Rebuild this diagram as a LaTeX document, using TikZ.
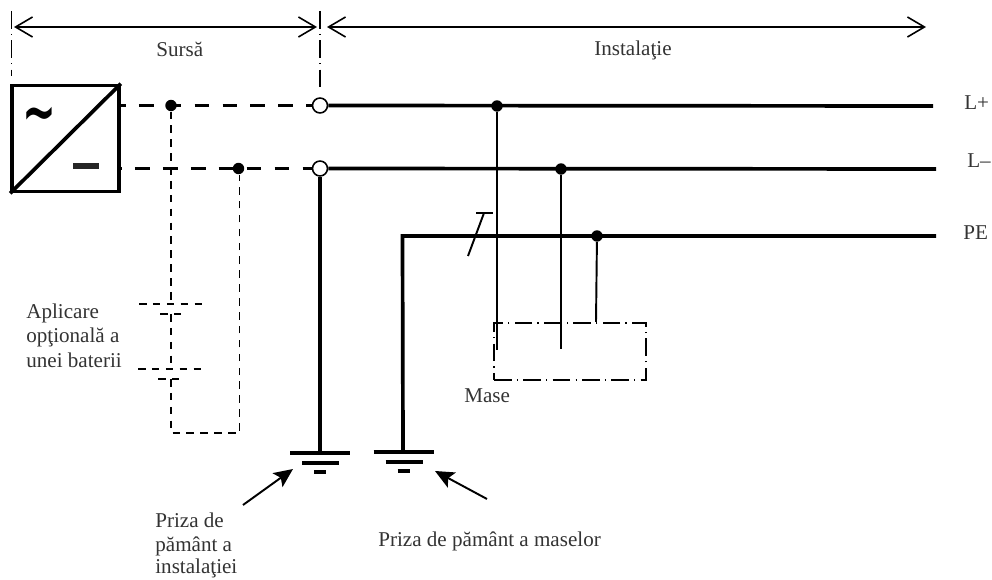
\documentclass[tikz,border=0pt]{standalone}
\usepackage{fontspec}
\setmainfont{Liberation Serif}
\usetikzlibrary{arrows.meta}

\tikzset{
    wire/.style={line width=2.1pt},
    thinwire/.style={line width=1.1pt},
    optwire/.style={line width=0.95pt, dash pattern=on 4.3pt off 3.6pt},
    busdash/.style={line width=2.1pt, dash pattern=on 8.4pt off 7.5pt},
    frameline/.style={line width=0.85pt, dash pattern=on 10pt off 3pt on 0.7pt off 3pt},
    dimline/.style={line width=0.9pt, {Straight Barb[length=.34cm,width=.4cm]}-{Straight Barb[length=.34cm,width=.4cm]}},
    pointer/.style={line width=1.1pt, -{Stealth[length=.38cm,width=.34cm,inset=.08cm]}},
    dot/.style={circle, fill=black, inner sep=0pt, minimum size=6.5pt},
    ring/.style={circle, draw, fill=white, line width=0.9pt, inner sep=0pt, minimum size=8.5pt},
    lbl/.style={inner sep=0pt, anchor=base west, font=\fontsize{12}{14}\selectfont, text=black!80},
}

\begin{document}
\begin{tikzpicture}[x=0.02cm, y=-0.02cm]
        \useasboundingbox (0,0) rectangle (992,580);

        % Converter:
        \node [draw, line width=2.1pt, minimum width=2.14cm, minimum height=2.12cm, inner sep=0pt] (psu) at (65.5,138.5) {};
        \draw [wire] (psu.south west) -- (psu.north east);
        \node [inner sep=0pt, xscale=2.3, yscale=3.6] (ac) at (39,120) {\bfseries\fontspec{DejaVu Sans}∼};
        \node [fill=black!85, minimum width=0.53cm, minimum height=0.11cm, inner sep=0pt] (dc) at (86,166) {};

        % Points on the lines:
        \node [ring] (ringp) at (320,105.5) {};
        \node [ring] (ringm) at (320,168.5) {};
        \foreach \name/\x/\y in {jp/171/105.5, jm/238.5/168.5, fp/497/106, fm/561/169, fpe/597/236}{%
        \node [dot] (\name) at (\x,\y) {};
        }
        \coordinate (endp) at (933,106);
        \coordinate (endm) at (936,169);
        \coordinate (endpe) at (936,236);
        \coordinate (cornerpe) at (402.5,236);
        \coordinate (gnda) at (320,453);
        \coordinate (gndb) at (403,452);

        % Lines:
        \draw [busdash, dash phase=5.7pt] (psu.east |- ringp) -- (ringp);
        \draw [busdash, dash phase=7.9pt] (psu.east |- ringm) -- (ringm);
        \draw [wire] (ringp) -- (endp);
        \draw [wire] (ringm) -- (endm);
        \draw [wire] (ringm) -- (gnda);
        \draw [wire] (endpe) -- (cornerpe) -- (gndb);

        % Earth:
        \foreach \x/\y in {320/453, 403.5/452}{%
        \draw [line width=1.8pt] (\x-30,\y) -- (\x+30,\y);
        \draw [line width=2pt] (\x-18,\y+10) -- (\x+19,\y+10);
        \draw [line width=1.8pt] (\x-6,\y+19) -- (\x+6,\y+19);
        }

        % Slash on PE:
        \coordinate (slasha) at (468,256);
        \coordinate (slashb) at (484,213);
        \coordinate (slashc) at (476,213);
        \coordinate (slashd) at (493,213);
        \draw [thinwire] (slasha) -- (slashb);
        \draw [thinwire] (slashc) -- (slashd);

        % Masses:
        \node [draw, frameline, minimum width=3.04cm, minimum height=1.14cm, inner sep=0pt] (mase) at (570,351.5) {};
        \coordinate (fpend) at (497,350);
        \coordinate (fmend) at (561,349);
        \coordinate (fpeend) at (596,322);
        \draw [thinwire] (fp) -- (fpend);
        \draw [thinwire] (fm) -- (fmend);
        \draw [thinwire] (fpe) -- (fpeend);

        % Optional battery:
        \coordinate (bata) at (171,304);
        \coordinate (batb) at (171,314);
        \coordinate (batc) at (171,369);
        \coordinate (batd) at (171,379);
        \coordinate (bate) at (171,433);
        \coordinate (batf) at (239.5,433);
        \draw [optwire] (jp) -- (bata);
        \draw [optwire] (batb) -- (batc);
        \draw [optwire] (batd) -- (bate) -- (batf) -- (jm.south -| batf);
        \draw [optwire] (139,304) -- (204,304);
        \draw [optwire] (160,314) -- (182,314);
        \draw [optwire] (138,369) -- (203,369);
        \draw [optwire] (158,379) -- (181,379);

        % Borders and extents:
        \coordinate (bordera) at (11.5,11);
        \coordinate (borderc) at (11.5,76);
        \coordinate (borderb) at (320,11);
        \coordinate (borderd) at (320,87);
        \coordinate (extl) at (14,27);
        \coordinate (extm) at (317,27);
        \coordinate (extn) at (327,27);
        \coordinate (extr) at (926,27);
        \draw [frameline] (bordera) -- (borderc);
        \draw [frameline] (borderb) -- (borderd);
        \draw [dimline] (extl) -- (extm);
        \draw [dimline] (extn) -- (extr);

        % Earth pointers:
        \coordinate (ptra) at (243,505);
        \coordinate (ptrb) at (293,469);
        \coordinate (ptrc) at (487,499);
        \coordinate (ptrd) at (435,471);
        \draw [pointer] (ptra) -- (ptrb);
        \draw [pointer] (ptrc) -- (ptrd);

        % Labels:
        \node [lbl] (sursa) at (156,56.5) {Sursă};
        \node [lbl] (inst) at (594,56) {Instalaţie};
        \node [lbl] (lp) at (964,110) {L+};
        \node [lbl] (lm) at (967,168) {L–};
        \node [lbl] (pe) at (963,240) {PE};
        \node [lbl] (mase1) at (464,403) {Mase};
        \node [lbl] (opt1) at (26,319) {Aplicare};
        \node [lbl] (opt2) at (26,343) {opţională a};
        \node [lbl] (opt3) at (26,368) {unei baterii};
        \node [lbl] (pri1) at (155,528) {Priza de};
        \node [lbl] (pri2) at (155,552) {pământ a};
        \node [lbl] (pri3) at (155,574) {instalaţiei};
        \node [lbl] (pri4) at (378,547) {Priza de pământ a maselor};

    \end{tikzpicture}
\end{document}
